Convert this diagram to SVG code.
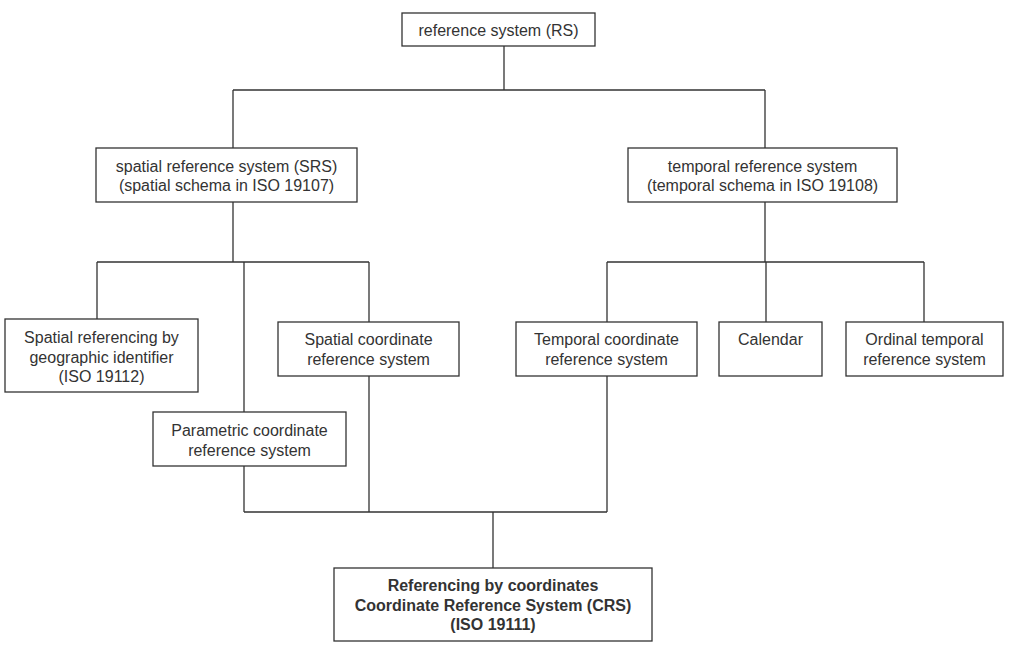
<svg xmlns="http://www.w3.org/2000/svg" width="1021" height="662" viewBox="0 0 1021 662">
<style>
.b{fill:#fff;stroke:#333;stroke-width:1.3}
.t{font-family:"Liberation Sans",Arial,sans-serif;font-size:16px;fill:#333;text-anchor:middle}
.bd{font-weight:bold}
.c{fill:none;stroke:#333;stroke-width:1.3}
</style>
<rect width="1021" height="662" fill="#fff"/>
<g id="connectors" class="c">
<path d="M504 46V90M233 90H765M233 90V148M765 90V148"/>
<path d="M233 202V262M97 262H369M97 262V319M244 262V412M369 262V322"/>
<path d="M765 202V262M607 262H924M607 262V322M766 262V322M924 262V322"/>
<path d="M244 466V512M369 376V512M607 376V512M244 512H607M493 512V568"/>
</g>
<g id="rs"><rect class="b" x="402" y="13" width="193" height="33"/><text class="t" x="498.5" y="36">reference system (RS)</text></g>
<g id="srs"><rect class="b" x="96" y="148" width="261" height="54"/><text class="t" x="226.5" y="172">spatial reference system (SRS)</text><text class="t" x="226.5" y="191">(spatial schema in ISO 19107)</text></g>
<g id="trs"><rect class="b" x="628" y="148" width="269" height="54"/><text class="t" x="762.5" y="172">temporal reference system</text><text class="t" x="762.5" y="191">(temporal schema in ISO 19108)</text></g>
<g id="geo"><rect class="b" x="5" y="319" width="193" height="73"/><text class="t" x="101.5" y="343">Spatial referencing by</text><text class="t" x="101.5" y="362.5">geographic identifier</text><text class="t" x="101.5" y="382">(ISO 19112)</text></g>
<g id="scrs"><rect class="b" x="278" y="322" width="181" height="54"/><text class="t" x="368.5" y="345">Spatial coordinate</text><text class="t" x="368.5" y="364.5">reference system</text></g>
<g id="pcrs"><rect class="b" x="153" y="412" width="193" height="54"/><text class="t" x="249.5" y="436">Parametric coordinate</text><text class="t" x="249.5" y="455.5">reference system</text></g>
<g id="tcrs"><rect class="b" x="516" y="322" width="181" height="54"/><text class="t" x="606.5" y="345">Temporal coordinate</text><text class="t" x="606.5" y="364.5">reference system</text></g>
<g id="cal"><rect class="b" x="719" y="322" width="103" height="54"/><text class="t" x="770.5" y="345">Calendar</text></g>
<g id="ord"><rect class="b" x="846" y="322" width="157" height="54"/><text class="t" x="924.5" y="345">Ordinal temporal</text><text class="t" x="924.5" y="364.5">reference system</text></g>
<g id="crs"><rect class="b" x="334" y="568" width="318" height="73"/><text class="t bd" x="493" y="591">Referencing by coordinates</text><text class="t bd" x="493" y="610.5">Coordinate Reference System (CRS)</text><text class="t bd" x="493" y="630">(ISO 19111)</text></g>
</svg>
